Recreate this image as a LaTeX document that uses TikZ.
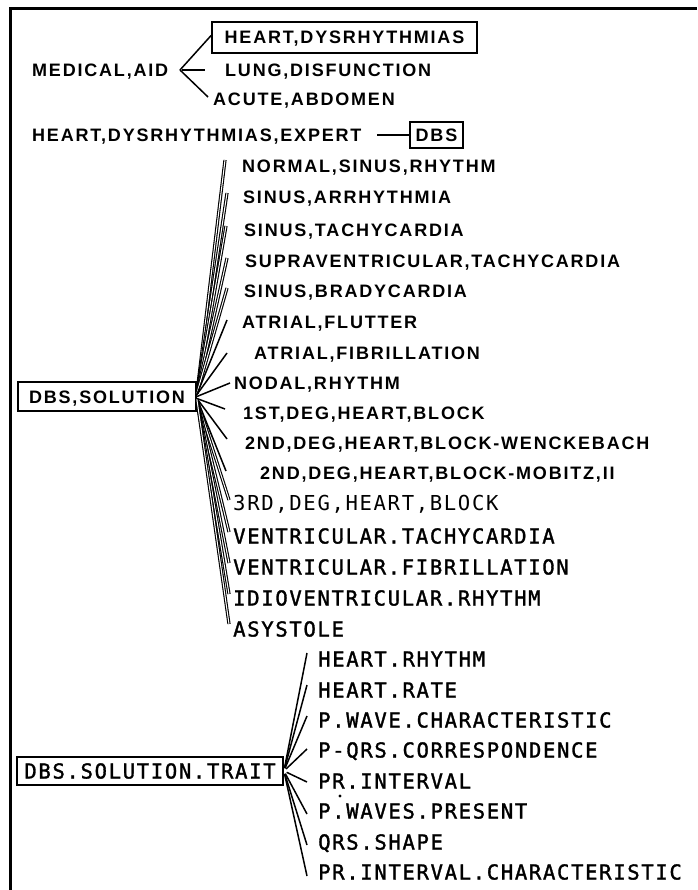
\documentclass[tikz,border=0pt]{standalone}
\usepackage{fontspec}
\newfontfamily\lblfont{Liberation Sans}[LetterSpace=10]
\newfontfamily\monfont{DejaVu Sans Mono}[LetterSpace=8]
\newfontfamily\monfontm{DejaVu Sans Mono}[LetterSpace=8,FakeBold=1.5]
\begin{document}
\begin{tikzpicture}[x=1pt,y=-1pt,
  sanslab/.style={font=\lblfont\bfseries\fontsize{18}{18}\selectfont, inner sep=0pt, text height=13pt, text depth=0pt},
  monolab/.style={font=\monfontm\fontsize{20.6}{20.6}\selectfont, inner sep=0pt, text height=15pt, text depth=0pt},
  monothin/.style={font=\monfont\fontsize{20.6}{20.6}\selectfont, inner sep=0pt, text height=15pt, text depth=0pt},
  lab/.style={anchor=west},
  boxnode/.style={draw, line width=1.8pt},
  conn/.style={line width=1.5pt},
  chain/.style={line width=1.1pt, double, double distance=1pt},
  framel/.style={line width=3pt}]
\useasboundingbox (0,0) rectangle (697,890);
% frame (top and left edges)
\draw[framel] (10,890) -- (10,9) -- (697,9);

% ---- top section ----
\node[sanslab,lab] (med) at (32,70) {MEDICAL,AID};
\node[sanslab,boxnode,minimum width=265pt,minimum height=31pt] (heart) at (344.5,37.5) {HEART,DYSRHYTHMIAS};
\node[sanslab,lab] (lung) at (225,70) {LUNG,DISFUNCTION};
\node[sanslab,lab] (acute) at (213,99) {ACUTE,ABDOMEN};
\coordinate (medhub) at (180,70);
\draw[conn] (medhub) -- ([yshift=2pt]heart.west);
\draw[conn] ([xshift=2pt]medhub) -- ([xshift=-20pt]lung.west);
\draw[conn] (medhub) -- ([xshift=-5pt,yshift=2pt]acute.west);

\node[sanslab,lab] (expert) at (32,135) {HEART,DYSRHYTHMIAS,EXPERT};
\node[sanslab,boxnode,minimum width=53pt,minimum height=26pt] (dbs) at (436.5,135) {DBS};
\draw[conn] ([xshift=-32pt]dbs.west) -- (dbs.west);

% ---- DBS,SOLUTION ----
\node[sanslab,boxnode,minimum width=178pt,minimum height=29pt] (sol) at (107,396.5) {DBS,SOLUTION};

\node[sanslab,lab] (s1) at (242,166) {NORMAL,SINUS,RHYTHM};
\node[sanslab,lab] (s2) at (243,197) {SINUS,ARRHYTHMIA};
\node[sanslab,lab] (s3) at (244,230) {SINUS,TACHYCARDIA};
\node[sanslab,lab] (s4) at (245,261) {SUPRAVENTRICULAR,TACHYCARDIA};
\node[sanslab,lab] (s5) at (244,291) {SINUS,BRADYCARDIA};
\node[sanslab,lab] (s6) at (242,322) {ATRIAL,FLUTTER};
\node[sanslab,lab] (s7) at (254,353) {ATRIAL,FIBRILLATION};
\node[sanslab,lab] (s8) at (234,383) {NODAL,RHYTHM};
\node[sanslab,lab] (s9) at (243,413) {1ST,DEG,HEART,BLOCK};
\node[sanslab,lab] (s10) at (245,443) {2ND,DEG,HEART,BLOCK-WENCKEBACH};
\node[sanslab,lab] (s11) at (260,473) {2ND,DEG,HEART,BLOCK-MOBITZ,II};
\node[monothin,lab] (s12) at (233,503) {3RD,DEG,HEART,BLOCK};
\node[monolab,lab] (s13) at (233,536) {VENTRICULAR.TACHYCARDIA};
\node[monolab,lab] (s14) at (233,567) {VENTRICULAR.FIBRILLATION};
\node[monolab,lab] (s15) at (233,598) {IDIOVENTRICULAR.RHYTHM};
\node[monolab,lab] (s16) at (233,629) {ASYSTOLE};

\draw[chain] ([yshift=3pt]sol.east) -- ([xshift=-17pt,yshift=6pt]s1.west);
\draw[chain] ([yshift=3pt]sol.east) -- ([xshift=-16pt,yshift=4pt]s2.west);
\draw[chain] ([yshift=3pt]sol.east) -- ([xshift=-18pt,yshift=4pt]s3.west);
\draw[chain] ([yshift=3pt]sol.east) -- ([xshift=-18pt,yshift=3pt]s4.west);
\draw[chain] ([yshift=3pt]sol.east) -- ([xshift=-17pt,yshift=3pt]s5.west);
\draw[conn] ([yshift=2pt]sol.east) -- ([xshift=-15pt,yshift=2pt]s6.west);
\draw[conn] ([yshift=2pt]sol.east) -- ([xshift=-27pt]s7.west);
\draw[conn] (sol.east) -- ([xshift=-4pt]s8.west);
\draw[conn] ([yshift=-2pt]sol.east) -- ([xshift=-18pt,yshift=4pt]s9.west);
\draw[conn] ([yshift=-2pt]sol.east) -- ([xshift=-18pt,yshift=4pt]s10.west);
\draw[conn] ([yshift=-2pt]sol.east) -- ([xshift=-34pt,yshift=2pt]s11.west);
\draw[chain] ([yshift=-3pt]sol.east) -- ([xshift=-4pt,yshift=3pt]s12.west);
\draw[chain] ([yshift=-3pt]sol.east) -- ([xshift=-4pt,yshift=4pt]s13.west);
\draw[chain] ([yshift=-3pt]sol.east) -- ([xshift=-4pt,yshift=4pt]s14.west);
\draw[chain] ([yshift=-3pt]sol.east) -- ([xshift=-4pt,yshift=4pt]s15.west);
\draw[chain] ([yshift=-3pt]sol.east) -- ([xshift=-4pt,yshift=5pt]s16.west);

% ---- DBS.SOLUTION.TRAIT ----
\node[monolab,boxnode,minimum width=266pt,minimum height=28pt] (trait) at (150,771) {DBS.SOLUTION.TRAIT};

\node[monolab,lab] (t1) at (318,659) {HEART.RHYTHM};
\node[monolab,lab] (t2) at (318,690) {HEART.RATE};
\node[monolab,lab] (t3) at (318,720) {P.WAVE.CHARACTERISTIC};
\node[monolab,lab] (t4) at (318,750) {P-QRS.CORRESPONDENCE};
\node[monolab,lab] (t5) at (318,781) {PR.INTERVAL};
\node[monolab,lab] (t6) at (318,811) {P.WAVES.PRESENT};
\node[monolab,lab] (t7) at (318,842) {QRS.SHAPE};
\node[monolab,lab] (t8) at (318,872) {PR.INTERVAL.CHARACTERISTIC};

\foreach \t/\dy in {t1/6,t2/5,t3/4,t4/1,t5/-1,t6/-3,t7/-3,t8/-4}
  \draw[conn,shorten <=3pt] (trait.east) -- ([xshift=-11pt,yshift=\dy pt]\t.west);

\fill (340,796) circle (1.6);
\end{tikzpicture}
\end{document}
